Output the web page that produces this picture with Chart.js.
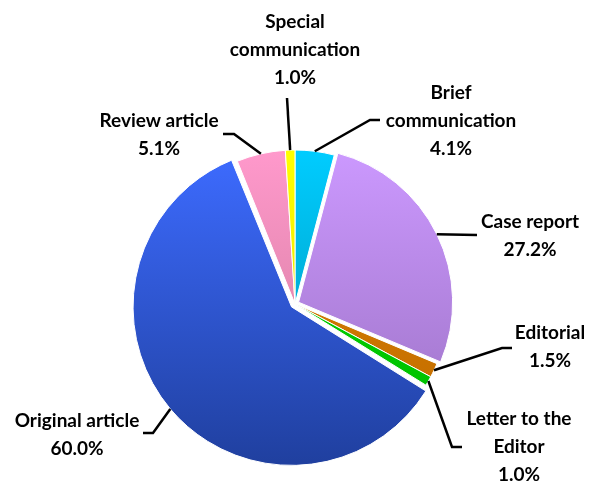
<!DOCTYPE html>
<html>
<head>
<meta charset="utf-8">
<script src="https://cdn.jsdelivr.net/npm/chart.js@4.4.1/dist/chart.umd.min.js"></script>
<style>
  html, body { margin: 0; padding: 0; background: #fff; }
  #wrap { width: 590px; height: 482px; }
</style>
</head>
<body>
<div id="wrap"><canvas id="pie-chart"></canvas></div>
<script>
// data
const categories = ['Brief communication', 'Case report', 'Editorial', 'Letter to the Editor', 'Original article', 'Review article', 'Special communication']
const shares = [4.1, 27.2, 1.5, 1.0, 60.0, 5.1, 1.0]
const labelLines = [['Brief', 'communication'], ['Case report'], ['Editorial'], ['Letter to the', 'Editor'], ['Original article'], ['Review article'], ['Special', 'communication']]

// styles
const topColors = ['#00ccff', '#cc99ff', '#dd8800', '#00dd00', '#3d6bff', '#ff99cc', '#ffff00']
const bottomColors = ['#0090b0', '#9a70c2', '#c06800', '#00bb00', '#2040a0', '#cc7896', '#e0d800']
const explode = [0, 16, 0, 0, 18, 0, 0]
const pieRadius = 154
const labelSpots = [[451, 93], [530, 222], [550, 333], [519, 419], [77, 421], [159, 121], [295, 22]]
const leaderBends = [
    [[370, 120], [380, 120]],
    [[477, 235]],
    [[502, 348], [512, 348]],
    [[452, 447], [462, 447]],
    [[153, 433], [143, 433]],
    [[234, 134], [223, 134]],
    [[287, 98]]
]

function sliceFill(ctx) {
    const chart = ctx.chart
    const area = chart.chartArea
    const i = ctx.dataIndex
    if (!area) return topColors[i]
    const cy = (area.top + area.bottom) / 2
    const g = chart.ctx.createLinearGradient(0, cy - pieRadius, 0, cy + pieRadius)
    g.addColorStop(0, topColors[i])
    g.addColorStop(1, bottomColors[i])
    return g
}

const calloutPlugin = {
    id: 'callouts',
    afterDatasetsDraw(chart) {
        const meta = chart.getDatasetMeta(0)
        const c = chart.ctx
        c.save()
        meta.data.forEach(function(arc, i) {
            const p = arc.getProps(['x', 'y', 'startAngle', 'endAngle', 'outerRadius'], true)
            const off = (arc.options.offset || 0) / 4
            const circ = p.endAngle - p.startAngle
            const fix = 1 - Math.sin(Math.min(Math.PI, circ))
            const mid = (p.startAngle + p.endAngle) / 2
            const reach = off + p.outerRadius + off * fix
            const ax = p.x + Math.cos(mid) * reach
            const ay = p.y + Math.sin(mid) * reach

            // leader line
            c.beginPath()
            c.moveTo(ax, ay)
            leaderBends[i].forEach(pt => c.lineTo(pt[0], pt[1]))
            c.strokeStyle = '#000'
            c.lineWidth = 2.5
            c.lineJoin = 'miter'
            c.stroke()

            // label text
            const lines = labelLines[i].concat([shares[i].toFixed(1) + '%'])
            c.fillStyle = '#000'
            c.font = 'bold 19px Lato'
            c.textAlign = 'center'
            c.textBaseline = 'middle'
            lines.forEach((t, k) => c.fillText(t, labelSpots[i][0], labelSpots[i][1] + k * 28))
        })
        c.restore()
    }
}

const pieChart = new Chart(document.getElementById('pie-chart'), {
    type: 'pie',
    data: {
        labels: categories,
        datasets: [{
            data: shares,
            backgroundColor: sliceFill,
            borderColor: '#ffffff',
            borderWidth: 1,
            offset: explode,
            hoverOffset: 0
        }]
    },
    options: {
        responsive: true,
        maintainAspectRatio: false,
        animation: false,
        radius: pieRadius,
        layout: { padding: { top: 130, bottom: 4, left: 0, right: 0 } },
        plugins: {
            legend: { display: false },
            tooltip: { enabled: false }
        }
    },
    plugins: [calloutPlugin]
})
</script>
</body>
</html>
